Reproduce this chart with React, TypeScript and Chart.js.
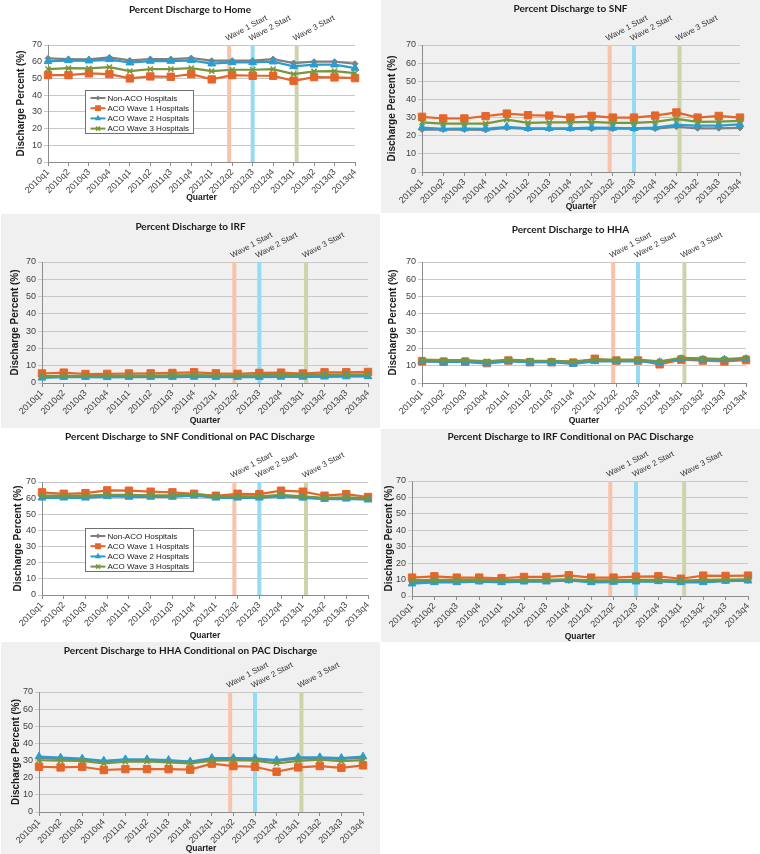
import React, { useEffect, useRef } from "react";
import { Chart, registerables } from "chart.js";

Chart.register(...registerables);

// ---------- data ----------
const QUARTERS = [
  "2010q1", "2010q2", "2010q3", "2010q4",
  "2011q1", "2011q2", "2011q3", "2011q4",
  "2012q1", "2012q2", "2012q3", "2012q4",
  "2013q1", "2013q2", "2013q3", "2013q4",
];
const SERIES_NAMES = ["Non-ACO Hospitals", "ACO Wave 1 Hospitals", "ACO Wave 2 Hospitals", "ACO Wave 3 Hospitals"];
const WAVE_LABELS = ["Wave 1 Start", "Wave 2 Start", "Wave 3 Start"];
const WAVE_POSITIONS = [8.85, 10, 12.15];
const Y_MIN = 0;
const Y_MAX = 70;
const Y_STEP = 10;

const HOME_NON_ACO = [62.0, 61.6, 61.4, 62.6, 60.8, 61.6, 61.6, 62.2, 60.6, 60.6, 60.6, 61.6, 59.2, 60.0, 60.0, 58.8];
const HOME_WAVE1 = [52.0, 52.0, 53.0, 52.6, 50.0, 51.2, 51.0, 52.6, 49.4, 52.0, 51.6, 51.6, 48.6, 50.8, 50.6, 50.2];
const HOME_WAVE2 = [60.2, 60.8, 60.6, 61.4, 59.4, 60.4, 60.4, 60.8, 58.8, 59.6, 59.6, 60.0, 57.2, 58.2, 58.2, 56.2];
const HOME_WAVE3 = [55.6, 56.2, 56.0, 56.8, 54.4, 55.6, 55.6, 56.2, 54.4, 55.2, 55.2, 55.6, 52.6, 54.2, 54.4, 53.2];

const SNF_NON_ACO = [23.4, 23.4, 23.4, 23.2, 24.3, 23.8, 23.8, 23.8, 23.9, 23.9, 23.9, 23.9, 24.9, 24.1, 24.1, 24.3];
const SNF_WAVE1 = [30.4, 29.5, 29.5, 30.8, 32.2, 31.3, 31.1, 30.0, 30.9, 30.0, 30.0, 31.1, 32.8, 30.0, 30.9, 30.0];
const SNF_WAVE2 = [24.5, 23.8, 23.9, 23.8, 24.9, 24.1, 24.1, 24.1, 24.5, 24.3, 24.1, 24.5, 26.0, 25.6, 25.6, 26.2];
const SNF_WAVE3 = [27.3, 26.7, 26.7, 26.7, 28.9, 27.1, 27.3, 27.3, 27.6, 27.1, 27.1, 27.6, 29.3, 27.6, 27.8, 28.2];

const IRF_NON_ACO = [3.6, 3.8, 3.8, 3.7, 3.8, 3.8, 3.9, 3.9, 3.8, 3.8, 3.9, 4.0, 3.9, 4.0, 4.1, 4.2];
const IRF_WAVE1 = [5.5, 6.0, 5.2, 5.3, 5.5, 5.6, 5.8, 6.2, 5.6, 5.3, 5.8, 6.0, 5.5, 6.2, 6.2, 6.4];
const IRF_WAVE2 = [3.0, 3.4, 3.4, 3.3, 3.4, 3.4, 3.4, 3.5, 3.4, 3.4, 3.4, 3.5, 3.5, 3.6, 3.7, 3.8];
const IRF_WAVE3 = [4.0, 4.2, 4.2, 4.2, 4.3, 4.3, 4.4, 4.5, 4.4, 4.3, 4.5, 4.6, 4.5, 4.8, 4.8, 5.0];

const HHA_NON_ACO = [13.0, 12.8, 12.8, 12.0, 13.0, 12.5, 12.5, 12.0, 13.0, 13.0, 13.0, 12.3, 14.0, 13.8, 13.5, 14.0];
const HHA_WAVE1 = [12.5, 12.3, 12.3, 11.5, 13.0, 12.0, 12.0, 11.8, 14.0, 13.0, 13.0, 10.8, 13.5, 13.0, 12.5, 13.2];
const HHA_WAVE2 = [12.5, 12.2, 12.2, 11.2, 12.5, 12.0, 12.0, 11.0, 12.5, 12.5, 12.5, 12.0, 13.8, 13.5, 13.5, 13.8];
const HHA_WAVE3 = [13.5, 13.2, 13.2, 12.5, 13.5, 13.0, 12.8, 12.5, 13.5, 13.5, 13.5, 12.5, 14.5, 14.2, 13.8, 14.5];

const SNFC_NON_ACO = [61.0, 61.0, 61.0, 61.8, 61.5, 61.3, 61.2, 62.0, 60.8, 60.8, 60.8, 61.5, 60.5, 59.8, 60.0, 59.5];
const SNFC_WAVE1 = [63.6, 62.7, 63.1, 64.8, 64.6, 64.0, 63.6, 62.7, 61.5, 62.7, 62.5, 64.6, 64.0, 61.5, 62.5, 60.7];
const SNFC_WAVE2 = [60.2, 60.2, 60.2, 61.1, 60.7, 60.7, 60.7, 61.5, 60.2, 60.2, 60.2, 61.1, 60.2, 59.4, 59.6, 59.0];
const SNFC_WAVE3 = [61.5, 61.5, 61.5, 62.1, 62.1, 61.7, 61.7, 62.5, 61.1, 61.1, 61.1, 62.1, 61.1, 60.2, 60.5, 60.0];

const IRFC_NON_ACO = [8.5, 8.8, 8.8, 9.0, 8.8, 9.0, 9.1, 9.5, 8.9, 8.9, 9.1, 9.2, 8.8, 9.0, 9.3, 9.5];
const IRFC_WAVE1 = [11.2, 12.0, 11.2, 11.2, 10.8, 11.6, 11.6, 12.6, 11.2, 11.2, 11.8, 12.0, 10.5, 12.4, 12.2, 12.4];
const IRFC_WAVE2 = [7.5, 8.3, 8.3, 8.7, 8.3, 8.7, 8.7, 9.5, 8.3, 8.5, 8.7, 8.9, 8.3, 8.3, 9.1, 9.3];
const IRFC_WAVE3 = [9.5, 9.8, 9.8, 9.8, 9.6, 9.8, 9.9, 10.2, 9.6, 9.5, 9.8, 9.9, 9.2, 9.8, 10.0, 10.2];

const HHAC_NON_ACO = [31.5, 31.0, 30.6, 29.5, 30.3, 30.3, 29.8, 29.0, 31.0, 31.0, 30.8, 29.8, 31.3, 31.3, 31.0, 31.5];
const HHAC_WAVE1 = [26.4, 26.0, 26.4, 24.5, 25.0, 25.0, 25.0, 24.7, 28.2, 26.8, 26.4, 23.5, 26.0, 26.8, 25.8, 27.2];
const HHAC_WAVE2 = [32.3, 31.7, 31.1, 29.9, 30.7, 30.7, 30.3, 29.4, 31.5, 31.5, 31.3, 30.3, 31.9, 31.9, 31.5, 32.3];
const HHAC_WAVE3 = [30.2, 30.0, 29.8, 28.3, 29.3, 29.5, 29.0, 28.3, 30.0, 30.2, 30.0, 28.3, 29.8, 30.5, 29.6, 30.3];

// ---------- styles ----------
const SERIES_COLORS = ["#7f7f7f", "#e4662b", "#2c9ccf", "#78963c"];
const POINT_STYLES = ["rectRot", "rect", "triangle", "crossRot"];
const POINT_RADII = [3, 5.2, 4.5, 3.6];
const WAVE_COLORS = ["#f8c3aa", "#95dbf4", "#cdd3ab"];
const GRAY_BG = "#f0f0f0";
const FONT = "'Liberation Sans', Arial, sans-serif";
const TITLE_FONT = "Lato, 'Liberation Sans', sans-serif";
const TEXT = "#404040";

type PanelCfg = {
  title: string;
  series: number[][];
  x: number; y: number; w: number; h: number; bg: string;
  left: number; right: number; top: number; xAxisH: number;
  titleY: number; yTitleC: number; xTitleC: number;
  legend?: { dx: number; dy: number };
};

const PANELS: PanelCfg[] = [
  { title: "Percent Discharge to Home", series: [HOME_NON_ACO, HOME_WAVE1, HOME_WAVE2, HOME_WAVE3],
    x: 0, y: 0, w: 380, h: 213, bg: "#ffffff", left: 48, right: 25, top: 45, xAxisH: 51,
    titleY: 10, yTitleC: 21, xTitleC: 198, legend: { dx: 37, dy: 45 } },
  { title: "Percent Discharge to SNF", series: [SNF_NON_ACO, SNF_WAVE1, SNF_WAVE2, SNF_WAVE3],
    x: 381, y: 0, w: 379, h: 213, bg: GRAY_BG, left: 41, right: 20, top: 45, xAxisH: 41,
    titleY: 9, yTitleC: 11, xTitleC: 207 },
  { title: "Percent Discharge to IRF", series: [IRF_NON_ACO, IRF_WAVE1, IRF_WAVE2, IRF_WAVE3],
    x: 1, y: 214, w: 379, h: 214, bg: GRAY_BG, left: 41, right: 12, top: 48, xAxisH: 45,
    titleY: 13, yTitleC: 14, xTitleC: 207 },
  { title: "Percent Discharge to HHA", series: [HHA_NON_ACO, HHA_WAVE1, HHA_WAVE2, HHA_WAVE3],
    x: 381, y: 214, w: 379, h: 214, bg: "#ffffff", left: 41, right: 14, top: 48, xAxisH: 45,
    titleY: 16, yTitleC: 12, xTitleC: 207 },
  { title: "Percent Discharge to SNF Conditional on PAC Discharge", series: [SNFC_NON_ACO, SNFC_WAVE1, SNFC_WAVE2, SNFC_WAVE3],
    x: 0, y: 428, w: 380, h: 214, bg: "#ffffff", left: 42, right: 12, top: 54, xAxisH: 47,
    titleY: 9, yTitleC: 18, xTitleC: 208, legend: { dx: 43, dy: 46 } },
  { title: "Percent Discharge to IRF Conditional on PAC Discharge", series: [IRFC_NON_ACO, IRFC_WAVE1, IRFC_WAVE2, IRFC_WAVE3],
    x: 381, y: 429, w: 379, h: 213, bg: GRAY_BG, left: 31, right: 12, top: 52, xAxisH: 46,
    titleY: 8, yTitleC: 8, xTitleC: 208 },
  { title: "Percent Discharge to HHA Conditional on PAC Discharge", series: [HHAC_NON_ACO, HHAC_WAVE1, HHAC_WAVE2, HHAC_WAVE3],
    x: 1, y: 642, w: 379, h: 212, bg: GRAY_BG, left: 38, right: 17, top: 50, xAxisH: 42,
    titleY: 9, yTitleC: 15, xTitleC: 208 },
];

function drawMarker(ctx: CanvasRenderingContext2D, style: string, x: number, y: number, r: number, color: string) {
  ctx.save();
  ctx.fillStyle = color;
  ctx.strokeStyle = color;
  ctx.lineWidth = 1.5;
  ctx.beginPath();
  if (style === "rect") {
    const s = r * Math.SQRT1_2;
    ctx.rect(x - s, y - s, 2 * s, 2 * s);
    ctx.fill();
  } else if (style === "rectRot") {
    ctx.moveTo(x, y - r); ctx.lineTo(x + r, y); ctx.lineTo(x, y + r); ctx.lineTo(x - r, y); ctx.closePath();
    ctx.fill();
  } else if (style === "triangle") {
    const h = r * 1.5;
    ctx.moveTo(x, y - h * 0.66); ctx.lineTo(x + r * 0.87, y + h * 0.34); ctx.lineTo(x - r * 0.87, y + h * 0.34); ctx.closePath();
    ctx.fill();
  } else {
    const s = r * Math.SQRT1_2;
    ctx.moveTo(x - s, y - s); ctx.lineTo(x + s, y + s);
    ctx.moveTo(x + s, y - s); ctx.lineTo(x - s, y + s);
    ctx.stroke();
  }
  ctx.restore();
}

const decorPlugin = {
  id: "panelDecor",
  beforeDatasetsDraw(chart: any) {
    const { ctx, chartArea, scales } = chart;
    ctx.save();
    WAVE_POSITIONS.forEach((w, i) => {
      const px = scales.x.getPixelForValue(w);
      ctx.fillStyle = WAVE_COLORS[i];
      ctx.fillRect(px - 2, chartArea.top, 4, chartArea.bottom - chartArea.top);
    });
    ctx.restore();
  },
  afterDraw(chart: any, _args: any, opts: any) {
    const { ctx, chartArea, scales } = chart;
    ctx.save();
    // title
    ctx.fillStyle = "#1a1a1a";
    ctx.font = `bold 10px ${TITLE_FONT}`;
    ctx.textAlign = "center";
    ctx.textBaseline = "middle";
    ctx.fillText(opts.title, chart.width / 2, opts.titleY);
    // wave labels
    ctx.font = `8px ${FONT}`;
    ctx.fillStyle = "#333333";
    ctx.textAlign = "left";
    ctx.textBaseline = "alphabetic";
    WAVE_POSITIONS.forEach((w, i) => {
      const px = scales.x.getPixelForValue(w);
      ctx.save();
      ctx.translate(px - 2, chartArea.top - 4);
      ctx.rotate((-28 * Math.PI) / 180);
      ctx.fillText(WAVE_LABELS[i], 0, 0);
      ctx.restore();
    });
    // legend
    if (opts.legend) {
      const bx = Math.round(chartArea.left + opts.legend.dx) + 0.5;
      const by = Math.round(chartArea.top + opts.legend.dy) + 0.5;
      const bw = 108, bh = 43;
      ctx.fillStyle = "#ffffff";
      ctx.fillRect(bx, by, bw, bh);
      ctx.strokeStyle = "#6f6f6f";
      ctx.lineWidth = 1;
      ctx.strokeRect(bx, by, bw, bh);
      ctx.font = `8px ${FONT}`;
      ctx.textBaseline = "middle";
      ctx.textAlign = "left";
      SERIES_NAMES.forEach((name, i) => {
        const cy = by + 7.5 + i * 10.2;
        ctx.strokeStyle = SERIES_COLORS[i];
        ctx.lineWidth = 2;
        ctx.beginPath();
        ctx.moveTo(bx + 5, cy);
        ctx.lineTo(bx + 20, cy);
        ctx.stroke();
        drawMarker(ctx, POINT_STYLES[i], bx + 12.5, cy, POINT_RADII[i] * 0.8, SERIES_COLORS[i]);
        ctx.fillStyle = "#1a1a1a";
        ctx.fillText(name, bx + 22, cy + 0.5);
      });
    }
    ctx.restore();
  },
};

function Panel({ cfg }: { cfg: PanelCfg }) {
  const ref = useRef<HTMLCanvasElement>(null);
  useEffect(() => {
    const xTitleLh = 8.5 * 1.2;
    const yTitleLh = 10 * 1.2;
    const chart = new Chart(ref.current as HTMLCanvasElement, {
      type: "line",
      data: {
        labels: QUARTERS,
        datasets: cfg.series.map((vals, i) => ({
          label: SERIES_NAMES[i],
          data: vals,
          borderColor: SERIES_COLORS[i],
          backgroundColor: SERIES_COLORS[i],
          borderWidth: 2.2,
          pointStyle: POINT_STYLES[i] as any,
          pointRadius: POINT_RADII[i],
          pointBorderWidth: i === 3 ? 1.5 : 1,
          pointBackgroundColor: SERIES_COLORS[i],
          pointBorderColor: SERIES_COLORS[i],
          tension: 0,
          order: 4 - i,
        })),
      },
      options: {
        responsive: false,
        animation: false,
        devicePixelRatio: 1,
        layout: { padding: { top: cfg.top, right: cfg.right, left: 0, bottom: 0 } },
        plugins: {
          legend: { display: false },
          tooltip: { enabled: false },
          title: { display: false },
          panelDecor: { title: cfg.title, titleY: cfg.titleY, legend: cfg.legend || null },
        } as any,
        scales: {
          x: {
            type: "category",
            offset: false,
            grid: { drawOnChartArea: false, drawTicks: true, tickLength: 4, color: "#8c8c8c" },
            border: { color: "#8c8c8c" },
            ticks: {
              autoSkip: false, minRotation: 45, maxRotation: 45, padding: 1,
              color: TEXT, font: { family: FONT, size: 9 },
            },
            title: {
              display: true, text: "Quarter", color: "#1a1a1a",
              font: { family: FONT, size: 8.5, weight: "bold" },
              padding: { top: 0, bottom: Math.max(0, cfg.h - cfg.xTitleC - xTitleLh / 2) },
            },
            afterFit: (s: any) => { s.height = cfg.xAxisH; },
          },
          y: {
            min: Y_MIN, max: Y_MAX,
            ticks: { stepSize: Y_STEP, padding: 2, color: TEXT, font: { family: FONT, size: 9 } },
            grid: { color: "#c8c8c8", tickLength: 4 },
            border: { color: "#8c8c8c" },
            title: {
              display: true, text: "Discharge Percent (%)", color: "#1a1a1a",
              font: { family: FONT, size: 10, weight: "bold" },
              padding: { top: Math.max(0, cfg.yTitleC - yTitleLh / 2), bottom: 0 },
            },
            afterFit: (s: any) => { s.width = cfg.left; },
          },
        } as any,
      },
      plugins: [decorPlugin as any],
    });
    return () => chart.destroy();
  }, []);
  return (
    <div style={{ position: "absolute", left: cfg.x, top: cfg.y, width: cfg.w, height: cfg.h, background: cfg.bg }}>
      <canvas ref={ref} width={cfg.w} height={cfg.h} style={{ display: "block", width: cfg.w, height: cfg.h }} />
    </div>
  );
}

export default function App() {
  return (
    <div style={{ position: "absolute", left: 0, top: 0, width: 760, height: 854, background: "#ffffff", overflow: "hidden" }}>
      {PANELS.map((p, i) => (
        <Panel key={i} cfg={p} />
      ))}
    </div>
  );
}
